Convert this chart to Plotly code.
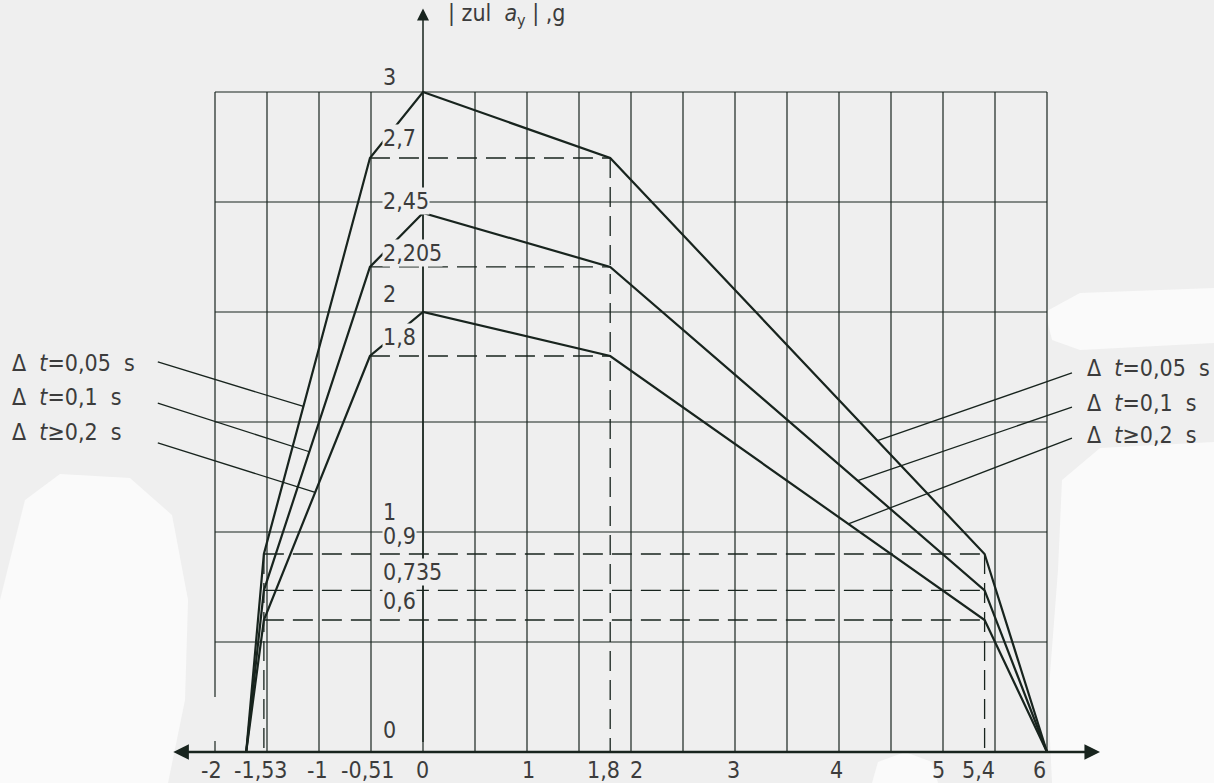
import numpy as np
import plotly.graph_objects as go

# ---------------- data ----------------
x_pts = [-1.70, -1.53, -0.51, 0.0, 1.8, 5.4, 6.0]
series_names = ["Δ  <i>t</i>=0,05  s", "Δ  <i>t</i>=0,1  s", "Δ  <i>t</i>≥0,2  s"]
y_005 = [0, 0.9, 2.7, 3.0, 2.7, 0.9, 0]
y_01 = [0, 0.735, 2.205, 2.45, 2.205, 0.735, 0]
y_02 = [0, 0.6, 1.8, 2.0, 1.8, 0.6, 0]

x_tick_vals = [-2, -1.53, -1, -0.51, 0, 1, 1.8, 2, 3, 4, 5, 5.4, 6]
x_tick_text = ["-2", "-1,53", "-1", "-0,51", "0", "1", "1,8", "2", "3", "4", "5", "5,4", "6"]
y_label_vals = [3, 2.7, 2.45, 2.205, 2, 1.8, 1, 0.9, 0.735, 0.6, 0]
y_label_text = ["3", "2,7", "2,45", "2,205", "2", "1,8", "1", "0,9", "0,735", "0,6", "0"]

# ---------------- layout helpers ----------------
series = [y_005, y_01, y_02]
INK = "#18241e"
TXT = "#3c3c3c"
BG = "#efefef"
FONT = "DejaVu Sans Condensed, DejaVu Sans, sans-serif"
FS = 23
W, H = 1214, 783

x_tick_shift = [-4, -3, -2, -2, -1, 1, -7, 5, -2, -3, -5, -6, -8]
x_tick_y = -0.08

label_offsets = [0.07, 0.09, 0.055, 0.065, 0.08, 0.086, 0.09, 0.08, 0.085, 0.086, 0.1]
label_x = -0.395

left_leader_end_x = [-1.15, -1.093, -1.037]
right_leader_end_x = [4.37, 4.18, 4.09]
left_leader_start = (-2.55, [1.773, 1.586, 1.405])
right_leader_start = (6.24, [1.723, 1.568, 1.427])
left_text = (-3.97, [1.768, 1.614, 1.455])
right_text = (6.37, [1.745, 1.586, 1.441])

# light (white) patches of the scanned page, in pixel outline
blobs = [
    [(10, 560), (25, 500), (60, 474), (130, 478), (172, 515), (188, 600), (185, 700),
     (168, 783), (0, 783), (0, 600)],
    [(1045, 312), (1080, 293), (1214, 288), (1214, 343), (1080, 350), (1052, 340)],
    [(1062, 480), (1100, 448), (1214, 442), (1214, 783), (1052, 783), (1048, 700),
     (1058, 570)],
    [(872, 783), (878, 762), (905, 752), (932, 762), (938, 783)],
]


def px_path(pts):
    s = ""
    for i, (px, py) in enumerate(pts):
        s += ("M" if i == 0 else "L") + f"{px / W:.4f},{1 - py / H:.4f} "
    return s + "Z"


fig = go.Figure()

shapes = []
for b in blobs:
    shapes.append(dict(type="path", path=px_path(b), xref="paper", yref="paper",
                       fillcolor="#fafafa", line=dict(width=0), layer="below"))

# grid
for xv in np.arange(-2, 6.001, 0.5):
    if abs(xv + 2) < 1e-9:
        shapes.append(dict(type="line", x0=xv, x1=xv, y0=0.25, y1=3,
                           line=dict(color=INK, width=1.2), layer="below"))
        shapes.append(dict(type="line", x0=xv, x1=xv, y0=0, y1=0.05,
                           line=dict(color=INK, width=1.2), layer="below"))
    else:
        shapes.append(dict(type="line", x0=xv, x1=xv, y0=0, y1=3,
                           line=dict(color=INK, width=1.2), layer="below"))
for yv in np.arange(0.5, 3.001, 0.5):
    shapes.append(dict(type="line", x0=-2, x1=6, y0=yv, y1=yv,
                       line=dict(color=INK, width=1.2), layer="below"))

# dashed reference lines
dx, dy = [], []
for ys in series:
    dx += [x_pts[2], x_pts[4], None]
    dy += [ys[2], ys[2], None]
    dx += [x_pts[1], x_pts[5], None]
    dy += [ys[1], ys[1], None]
dx += [x_pts[4], x_pts[4], None, x_pts[1], x_pts[1], None, x_pts[5], x_pts[5]]
dy += [max(s[4] for s in series), 0, None, max(s[1] for s in series), 0, None,
       max(s[5] for s in series), 0]
fig.add_trace(go.Scatter(x=dx, y=dy, mode="lines", hoverinfo="skip",
                         line=dict(color=INK, width=1.3, dash="20px,9px")))

# curves
for ys, nm in zip(series, series_names):
    fig.add_trace(go.Scatter(x=x_pts, y=ys, mode="lines", name=nm,
                             line=dict(color=INK, width=2.2)))

# leader lines
lx, ly = [], []
for i, ys in enumerate(series):
    ex = left_leader_end_x[i]
    lx += [left_leader_start[0], ex, None]
    ly += [left_leader_start[1][i], float(np.interp(ex, x_pts, ys)), None]
    ex = right_leader_end_x[i]
    lx += [right_leader_start[0], ex, None]
    ly += [right_leader_start[1][i], float(np.interp(ex, x_pts, ys)), None]
fig.add_trace(go.Scatter(x=lx, y=ly, mode="lines", hoverinfo="skip",
                         line=dict(color=INK, width=1.3)))

annotations = []
# axes with arrows
annotations.append(dict(x=6.51, y=0, ax=-2.43, ay=0, axref="x", ayref="y",
                        xref="x", yref="y", text=" ", showarrow=True,
                        arrowhead=2, arrowside="end+start", arrowsize=1.3,
                        arrowwidth=2.4, arrowcolor=INK))
annotations.append(dict(x=0, y=3.38, ax=0, ay=0, axref="x", ayref="y",
                        xref="x", yref="y", text=" ", showarrow=True,
                        arrowhead=2, arrowsize=1.6, arrowwidth=1.5, arrowcolor=INK))
# x tick labels
for v, t, sh in zip(x_tick_vals, x_tick_text, x_tick_shift):
    annotations.append(dict(x=v, y=x_tick_y, xref="x", yref="y", text=t,
                            showarrow=False, xanchor="center", yanchor="middle",
                            xshift=sh, font=dict(family=FONT, size=FS, color=TXT)))
# value labels
for v, t, off in zip(y_label_vals, y_label_text, label_offsets):
    annotations.append(dict(x=label_x, y=v + off, xref="x", yref="y", text=t,
                            showarrow=False, xanchor="left", yanchor="middle",
                            bgcolor=BG, borderpad=0,
                            font=dict(family=FONT, size=FS, color=TXT)))
# axis title
annotations.append(dict(x=0.22, y=3.35, xref="x", yref="y",
                        text="| zul  <i>a</i><sub>y</sub> | ,g", showarrow=False,
                        xanchor="left", yanchor="middle",
                        font=dict(family=FONT, size=FS, color=TXT)))
# series labels
for i, nm in enumerate(series_names):
    annotations.append(dict(x=left_text[0], y=left_text[1][i], xref="x", yref="y",
                            text=nm, showarrow=False, xanchor="left", yanchor="middle",
                            font=dict(family=FONT, size=FS, color=TXT)))
    annotations.append(dict(x=right_text[0], y=right_text[1][i], xref="x", yref="y",
                            text=nm, showarrow=False, xanchor="left", yanchor="middle",
                            font=dict(family=FONT, size=FS, color=TXT)))

fig.update_layout(
    width=W, height=H,
    margin=dict(l=0, r=0, t=0, b=0),
    paper_bgcolor=BG, plot_bgcolor=BG,
    showlegend=False,
    shapes=shapes,
    annotations=annotations,
    xaxis=dict(range=[-423 / 104, (W - 423) / 104], showgrid=False, zeroline=False,
               showline=False, showticklabels=False, ticks="", fixedrange=True),
    yaxis=dict(range=[-31 / 220, 752 / 220], showgrid=False, zeroline=False,
               showline=False, showticklabels=False, fixedrange=True),
)

fig.write_html("out.html")
